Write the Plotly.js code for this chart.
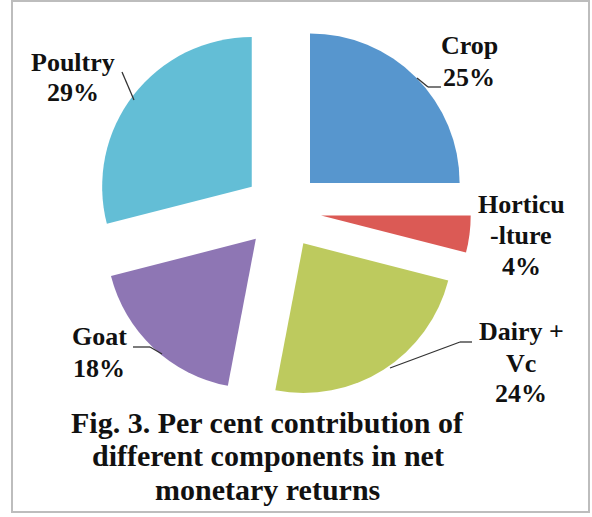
<!DOCTYPE html>
<html>
<head>
<meta charset="utf-8">
<script src="https://cdn.plot.ly/plotly-3.0.1.min.js"></script>
<style>
  html, body { margin: 0; padding: 0; background: #ffffff; }
  #chart { width: 592px; height: 517px; }
</style>
</head>
<body>
<div id="chart"></div>
<script>
// ---- data ----
const categories = ["Crop", "Horticulture", "Dairy + Vc", "Goat", "Poultry"];
const values = [25, 4, 24, 18, 29];
const labelLines = [["Crop"], ["Horticu", "-lture"], ["Dairy +", "Vc"], ["Goat"], ["Poultry"]];
const sliceColors = ["#5796CE", "#DB5A55", "#BDCA5E", "#8E76B4", "#63BED6"];
const titleLines = ["Fig. 3. Per cent contribution of", "different components in net", "monetary returns"];

// ---- layout geometry (pixels) ----
const W = 592, H = 517;
const M = { l: 94, r: 121, t: 22, b: 118 };
const PW = W - M.l - M.r, PH = H - M.t - M.b;
const px = x => (x - M.l) / PW;
const py = y => 1 - (y - M.t) / PH;

const serif = "Liberation Serif";
const mkFont = size => ({ family: serif, size: size, color: "#111111", weight: "bold" });

// label line positions (centre x, middle y of each line)
const labelPos = [
  { x: 469, ys: [45, 77] },
  { x: 521, ys: [204, 236, 266] },
  { x: 521, ys: [331, 363, 393] },
  { x: 99,  ys: [336, 368] },
  { x: 73,  ys: [62, 93] }
];

const annotations = [];
categories.forEach((c, i) => {
  const lines = labelLines[i].concat([values[i] + "%"]);
  lines.forEach((t, j) => {
    annotations.push({
      xref: "paper", yref: "paper",
      x: px(labelPos[i].x), y: py(labelPos[i].ys[j]),
      xanchor: "center", yanchor: "middle",
      text: t, showarrow: false, font: mkFont(26)
    });
  });
});
const titleYs = [422, 455, 489];
titleLines.forEach((t, j) => {
  annotations.push({
    xref: "paper", yref: "paper",
    x: px(267.5), y: py(titleYs[j]),
    xanchor: "center", yanchor: "middle",
    text: t, showarrow: false, font: mkFont(30)
  });
});

// leader lines (pixel polylines)
const leaders = [
  [[417, 78], [428, 87], [441, 87]],
  [[390, 368], [460, 342], [472, 342]],
  [[133, 347], [150, 347], [162, 354]],
  [[122, 72], [134, 100]]
];
const shapes = [];
leaders.forEach(pts => {
  for (let k = 0; k < pts.length - 1; k++) {
    shapes.push({
      type: "line", xref: "paper", yref: "paper",
      x0: px(pts[k][0]), y0: py(pts[k][1]), x1: px(pts[k + 1][0]), y1: py(pts[k + 1][1]),
      line: { color: "#333333", width: 1.3 }
    });
  }
});
// outer frame
shapes.push({
  type: "rect", xref: "paper", yref: "paper",
  x0: px(12), y0: py(1), x1: px(589), y1: py(512),
  line: { color: "#BDBDBD", width: 2 }, fillcolor: "rgba(0,0,0,0)", layer: "below"
});

const trace = {
  type: "pie",
  labels: categories,
  values: values,
  sort: false,
  direction: "clockwise",
  rotation: 0,
  pull: values.map(() => 0.26),
  marker: { colors: sliceColors, line: { width: 0 } },
  textinfo: "none",
  hoverinfo: "skip",
  showlegend: false
};

const layout = {
  width: W, height: H,
  margin: M,
  paper_bgcolor: "#ffffff",
  plot_bgcolor: "#ffffff",
  showlegend: false,
  annotations: annotations,
  shapes: shapes
};

Plotly.newPlot("chart", [trace], layout, { displayModeBar: false, staticPlot: true });
</script>
</body>
</html>
